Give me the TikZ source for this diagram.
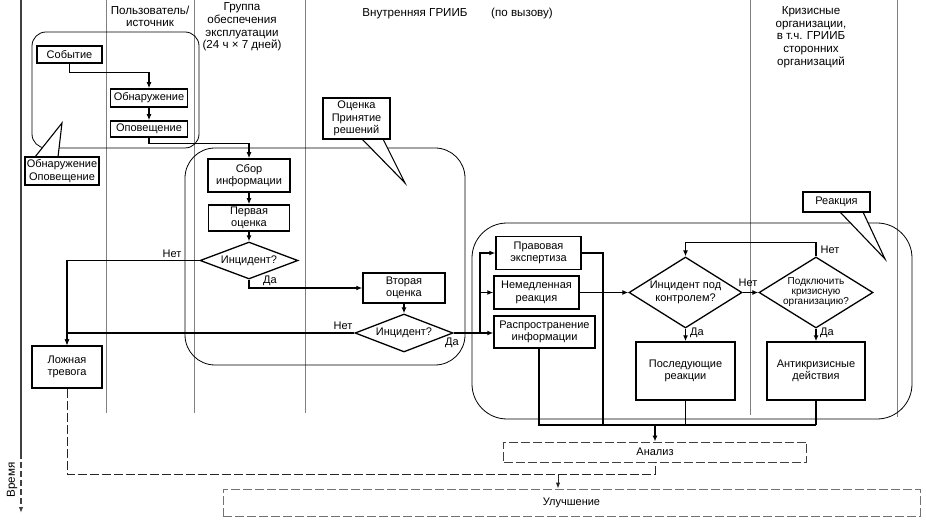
\documentclass[tikz,border=0pt]{standalone}
\usepackage{fontspec}
\setmainfont{Liberation Sans}
\usetikzlibrary{shapes.geometric,arrows.meta,calc}
\begin{document}
\begin{tikzpicture}[x=1pt,y=-1pt,
  font=\fontsize{11}{12.4}\selectfont,
  lane/.style={draw=black!50, line width=0.9pt},
  region/.style={draw=black, line width=0.8pt},
  box/.style={draw, line width=1.5pt, fill=white, align=center, inner sep=0pt},
  dbox/.style={draw=black!75, dash pattern=on 9pt off 3pt, line width=0.9pt, fill=white, inner sep=0pt},
  conn/.style={line width=1.5pt},
  flow/.style={conn, -{Latex[length=6pt,width=5pt]}},
  dline/.style={draw=black!85, line width=0.9pt, dash pattern=on 9pt off 3pt},
  dec/.style={diamond, draw, line width=1.3pt, fill=white, inner sep=0pt, align=center},
  lbl/.style={inner sep=0pt},
  hdr/.style={align=center, inner sep=0pt, font=\fontsize{11.6}{12.7}\selectfont},
  call/.style={draw, line width=1.2pt, fill=white, align=center, inner sep=0pt},
  tail/.style={line width=1.1pt}
]
\useasboundingbox (0,0) rectangle (926,521);

% lanes
\draw[lane] (106,0) -- (106,413);
\draw[lane] (194,0) -- (194,413);
\draw[lane] (305,0) -- (305,413);
\draw[lane] (750,0) -- (750,415);
\draw[lane] (897,0) -- (897,417);
% time axis
\draw[draw=black!75, line width=1.3pt] (21,0) -- (21,453);
\draw[draw=black!75, line width=1.1pt, dash pattern=on 6pt off 3pt, -{Latex[length=6pt,width=4.5pt]}] (21,453) -- (21,513);
\node[rotate=90, inner sep=0pt, font=\fontsize{11.6}{13}\selectfont] (time) at (12,480) {Время};

% headers
\node[hdr] (h1) at (150,16.5) {Пользователь/\\источник};
\node[hdr] (h2) at (242,27) {Группа\\обеспечения\\эксплуатации\\(24 ч × 7 дней)};
\node[hdr] (h3) at (415,14) {Внутренняя ГРИИБ};
\node[hdr] (h4) at (522,14) {(по вызову)};
\node[hdr] (h5) at (811,37) {Кризисные\\организации,\\в т.ч. ГРИИБ\\сторонних\\организаций};

% regions
\draw[region, rounded corners=14pt] (32,32) rectangle (199,148);
\draw[region, rounded corners=30pt] (185,148) rectangle (465,365);
\draw[region, rounded corners=35pt] (472,223) rectangle (912,419);

% callout tails
\coordinate (t1a) at (35,157); \coordinate (t1b) at (58,157); \coordinate (t1c) at (62,123);
\fill[white] (t1a) -- (t1c) -- (t1b) -- cycle;
\draw[tail] (t1a) -- (t1c) -- (t1b);
\coordinate (t2a) at (362,139); \coordinate (t2b) at (383,139); \coordinate (t2c) at (405,183);
\fill[white] (t2a) -- (t2c) -- (t2b) -- cycle;
\draw[tail] (t2a) -- (t2c) -- (t2b);
\coordinate (t3a) at (840,212); \coordinate (t3b) at (863,212); \coordinate (t3c) at (885,259);
\fill[white] (t3a) -- (t3c) -- (t3b) -- cycle;
\draw[tail] (t3a) -- (t3c) -- (t3b);

% callout boxes
\node[call, minimum width=74pt, minimum height=28pt] (c1) at (62,171) {Обнаружение\\Оповещение};
\node[call, minimum width=67pt, minimum height=41pt] (c2) at (356.5,118.5) {Оценка\\Принятие\\решений};
\node[call, minimum width=67pt, minimum height=20pt] (c3) at (836.5,202) {Реакция};

% boxes
\node[box, minimum width=65pt, minimum height=17pt] (sob) at (69.5,54.5) {Событие};
\node[box, minimum width=77pt, minimum height=18pt] (obn) at (149,98) {Обнаружение};
\node[box, minimum width=77pt, minimum height=16pt] (opo) at (149,129) {Оповещение};
\node[box, minimum width=82pt, minimum height=33pt] (sbor) at (249,175.5) {Сбор\\информации};
\node[box, minimum width=81pt, minimum height=26pt] (perv) at (249,218) {Первая\\оценка};
\node[dec, aspect=2.65, minimum width=98pt, minimum height=37pt] (inc1) at (249,260.5) {Инцидент?};
\node[box, minimum width=70pt, minimum height=42pt] (lozh) at (67,367) {Ложная\\тревога};
\node[box, minimum width=82pt, minimum height=30pt] (vtor) at (404,288) {Вторая\\оценка};
\node[dec, aspect=2.6, minimum width=98pt, minimum height=38pt] (inc2) at (404,333) {Инцидент?};
\node[box, minimum width=85pt, minimum height=33pt] (prav) at (538.5,253) {Правовая\\экспертиза};
\node[box, minimum width=85pt, minimum height=33pt] (nem) at (536.5,292.5) {Немедленная\\реакция};
\node[box, minimum width=101pt, minimum height=32pt] (rasp) at (544.5,332) {Распространение\\информации};
\node[dec, aspect=1.6, minimum width=113pt, minimum height=71pt] (inc3) at (685.5,292.5) {Инцидент под\\контролем?};
\node[dec, aspect=1.6, minimum width=114pt, minimum height=71pt, font=\fontsize{10}{10}\selectfont] (podk) at (816,292.5) {Подключить\\кризисную\\организацию?};
\node[box, minimum width=99pt, minimum height=58pt] (posl) at (685.5,371) {Последующие\\реакции};
\node[box, minimum width=98pt, minimum height=58pt] (anti) at (816,371) {Антикризисные\\действия};
\node[dbox, minimum width=303pt, minimum height=20pt] (anal) at (655,452) {Анализ};
\node[dbox, draw=black!55, minimum width=697pt, minimum height=27pt] (ulu) at (571.5,502.5) {Улучшение\hspace{27pt}};

% flows
\draw[flow] (sob.south) -- ++(0,9) -| (obn.north);
\draw[flow] (obn.south) -- (opo.north);
\draw[flow] (opo.south) -- ++(0,6) -| (sbor.north);
\draw[flow] (sbor.south) -- (perv.north);
\draw[flow] (perv.south) -- (inc1.north);
\draw[flow] (inc1.west) -| (lozh.north);
\draw[flow] (inc1.south) |- (vtor.west);
\draw[flow] (vtor.south) -- (inc2.north);
\draw[flow] (inc2.west) -| (lozh.north);
\coordinate (j) at (480,333);
\draw[flow] (inc2.east) -- (inc2.east -| rasp.west);
\draw[flow] (j) |- (prav.west);
\draw[flow] (j) |- (nem.west);
\draw[flow] (nem.east) -- (inc3.west);
\draw[flow] (inc3.east) -- (podk.west);
\draw[flow] (podk.north) -- ++(0,-14) -| (inc3.north);
\draw[flow] (inc3.south) -- (posl.north);
\draw[flow] (podk.south) -- (anti.north);

% collector
\coordinate (colL) at (539,425);
\coordinate (colR) at (816,425);
\coordinate (colM) at (655,425);
\draw[conn] ($(rasp.south)+(-5.5,0)$) -- (colL) -- (colR);
\draw[conn] (prav.east) -| (603,425);
\draw[conn] (posl.south) -- (posl.south |- colL);
\draw[conn] (anti.south) -- (colR);
\draw[flow] (colM) -- (anal.north);

% dashed feedback
\coordinate (dj) at (655,474);
\coordinate (ua) at (558,474);
\draw[dline] (lozh.south) |- (dj) -- (anal.south);
\draw[dline, -{Latex[length=6pt,width=4.5pt]}] (ua) -- (ua |- ulu.north);

% labels
\node[lbl] (n1) at (172,254) {Нет};
\node[lbl] (d1) at (270,281) {Да};
\node[lbl] (n2) at (343,326) {Нет};
\node[lbl] (d2) at (452,343) {Да};
\node[lbl] (n3) at (748,283) {Нет};
\node[lbl] (n4) at (830,250) {Нет};
\node[lbl] (d3) at (697,333) {Да};
\node[lbl] (d4) at (827,333) {Да};
\end{tikzpicture}
\end{document}
